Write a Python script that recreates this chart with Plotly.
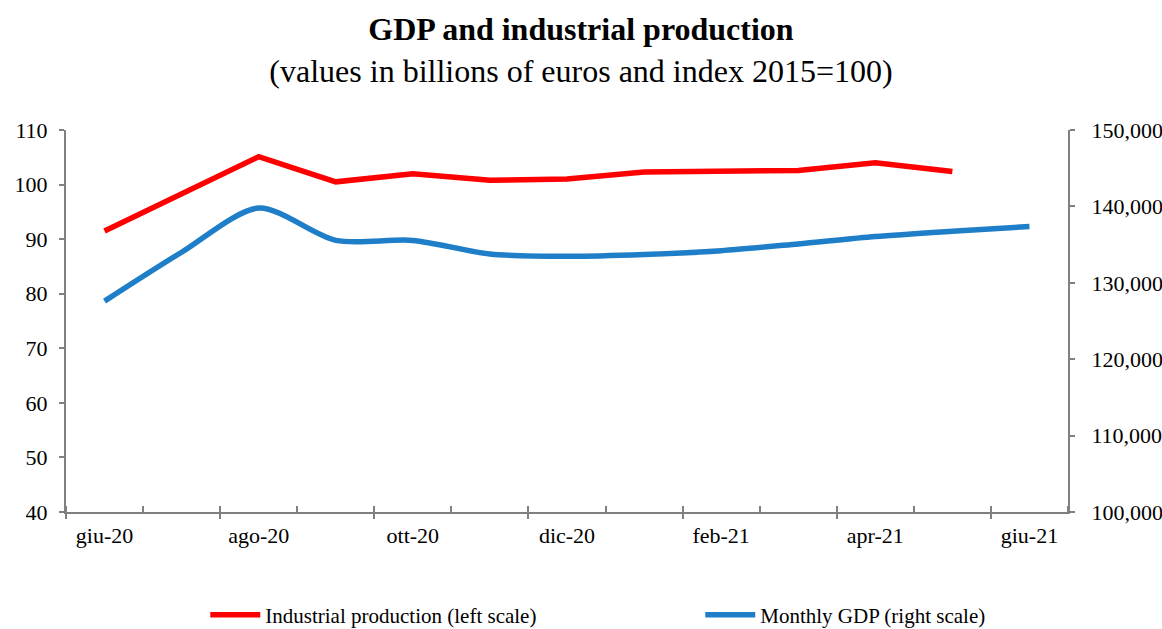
import plotly.graph_objects as go

months = ["giu-20", "lug-20", "ago-20", "set-20", "ott-20", "nov-20", "dic-20",
          "gen-21", "feb-21", "mar-21", "apr-21", "mag-21", "giu-21"]
industrial = [91.5, 98.4, 105.1, 100.5, 102.0, 100.8, 101.0, 102.3, 102.4, 102.6, 104.0, 102.4, None]
gdp = [127600, 134000, 139780, 135550, 135550, 133770, 133460, 133700, 134200, 135090, 136050, 136750, 137370]

label_months = months[::2]

x_idx = list(range(len(months)))
label_idx = x_idx[::2]
boundaries = [i - 0.5 for i in range(len(months) + 1)]
major_b = boundaries[::2]

FONT = "Liberation Serif"
AX = "#808080"
xr = [-0.5, len(months) - 0.5]

fig = go.Figure()
fig.add_trace(go.Scatter(
    x=x_idx, y=industrial, name="Industrial production (left scale)",
    mode="lines", line=dict(color="#ff0000", width=5.5), xaxis="x", yaxis="y"))
fig.add_trace(go.Scatter(
    x=x_idx, y=gdp, name="Monthly GDP (right scale)",
    mode="lines", line=dict(color="#1f7ec8", width=5.5, shape="spline", smoothing=0.8),
    xaxis="x2", yaxis="y2"))

fig.update_layout(
    width=1162, height=629,
    margin=dict(l=66, r=94, t=130, b=117, autoexpand=False),
    paper_bgcolor="white", plot_bgcolor="white",
    font=dict(family=FONT, size=22, color="black"),
    title=dict(text="<b>GDP and industrial production</b><br>(values in billions of euros and index 2015=100)",
               x=0.5, xanchor="center", y=0.936, yanchor="middle",
               font=dict(family=FONT, size=32, color="black")),
    showlegend=True,
    legend=dict(orientation="h", x=0.139, xanchor="left", y=-0.270, yanchor="middle",
                font=dict(family=FONT, size=21), entrywidth=430, itemwidth=50),
    xaxis=dict(range=xr, tickmode="array", tickvals=label_idx, ticktext=label_months,
               ticks="", showgrid=False, zeroline=False, showline=True,
               linecolor=AX, linewidth=2,
               minor=dict(tickmode="array", tickvals=boundaries, ticks="inside",
                          ticklen=6, tickcolor=AX, tickwidth=1.5, showgrid=False),
               ticklabelstandoff=3),
    xaxis2=dict(range=xr, overlaying="x", side="bottom", tickmode="array",
                tickvals=major_b, showticklabels=False, ticks="outside", ticklen=6,
                tickcolor=AX, tickwidth=1.5, showgrid=False, zeroline=False, showline=False),
    yaxis=dict(range=[40, 110], dtick=10, ticks="outside", ticklen=5, tickcolor=AX,
               tickwidth=1.5, showline=True, linecolor=AX, linewidth=2,
               showgrid=False, zeroline=False, ticklabelstandoff=7),
    yaxis2=dict(range=[100000, 150000], dtick=10000, tickformat=",", overlaying="y",
                side="right", ticks="outside", ticklen=5, tickcolor=AX, tickwidth=1.5,
                showline=True, linecolor=AX, linewidth=2, showgrid=False, zeroline=False,
                ticklabelstandoff=12),
)

fig.write_html("out.html")
